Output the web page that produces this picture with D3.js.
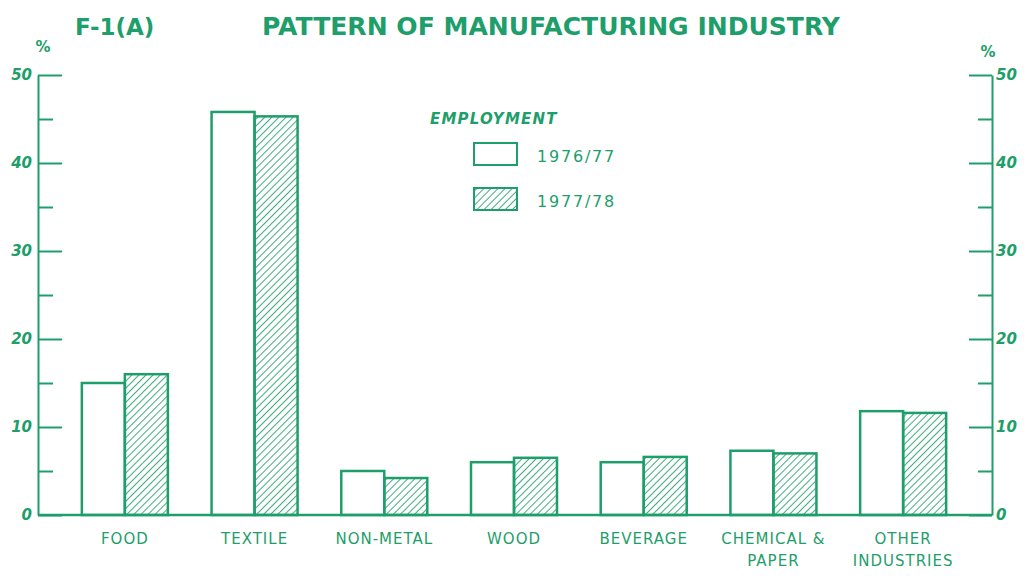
<!DOCTYPE html>
<html>
<head>
<meta charset="utf-8">
<script src="https://cdn.jsdelivr.net/npm/d3@7"></script>
<style>
  body { margin: 0; background: #fff; }
  svg { display: block; }
  text { font-family: "DejaVu Sans", sans-serif; fill: #1e9e6a; }
</style>
</head>
<body>
<div id="chart"></div>
<script>
// data (percent of manufacturing employment)
const categories = ["FOOD", "TEXTILE", "NON-METAL", "WOOD", "BEVERAGE", "CHEMICAL &\nPAPER", "OTHER\nINDUSTRIES"];
const seriesNames = ["1976/77", "1977/78"];
const emp7677 = [15.0, 45.8, 5.0, 6.0, 6.0, 7.3, 11.8];
const emp7778 = [16.0, 45.3, 4.2, 6.5, 6.6, 7.0, 11.6];
const majorTicks = [0, 10, 20, 30, 40, 50];
const minorTicks = [5, 15, 25, 35, 45];

const green = "#1e9e6a";
const width = 1030, height = 578;

const svg = d3.select("#chart").append("svg")
  .attr("width", width)
  .attr("height", height);

// hatch pattern for the second series
let defs = svg.append("defs");
defs.append("pattern")
  .attr("id", "hatch")
  .attr("patternUnits", "userSpaceOnUse")
  .attr("width", 5).attr("height", 5)
  .attr("patternTransform", "rotate(45)")
  .append("line")
  .attr("x1", 0).attr("y1", 0).attr("x2", 0).attr("y2", 5)
  .attr("stroke", green).attr("stroke-width", 1.7);

const axisLeftX = 38, axisRightX = 992;
const y = d3.scaleLinear().domain([0, 50]).range([515, 75]);
const x = d3.scaleBand().domain(categories).range([60, 968]).paddingInner(0.337).paddingOuter(0.1685);
const x1 = d3.scaleBand().domain(seriesNames).range([0, x.bandwidth()]);

// title
svg.append("text")
  .attr("x", 75).attr("y", 35)
  .attr("font-size", 23).attr("font-weight", "bold")
  .text("F-1(A)");
svg.append("text")
  .attr("x", 262).attr("y", 35)
  .attr("font-size", 24).attr("font-weight", "bold")
  .attr("textLength", 578).attr("lengthAdjust", "spacingAndGlyphs")
  .text("PATTERN OF MANUFACTURING INDUSTRY");

// % labels
svg.append("text").attr("x", 43).attr("y", 52).attr("text-anchor", "middle")
  .attr("font-size", 15).attr("font-weight", "bold").text("%");
svg.append("text").attr("x", 988).attr("y", 57).attr("text-anchor", "middle")
  .attr("font-size", 15).attr("font-weight", "bold").text("%");

// axes
function styleAxis(g){
  g.selectAll("path, line").attr("stroke", green).attr("stroke-width", 2);
  g.selectAll("text")
    .attr("fill", green)
    .attr("font-family", "DejaVu Sans, sans-serif")
    .attr("font-size", 15)
    .attr("font-style", "italic")
    .attr("font-weight", "bold");
}

let leftAxis = svg.append("g")
  .attr("transform", "translate(" + axisLeftX + ",0)")
  .call(d3.axisLeft(y).tickValues(majorTicks).tickSizeInner(-24).tickSizeOuter(0).tickPadding(6));
leftAxis.call(styleAxis);
svg.append("g")
  .attr("transform", "translate(" + axisLeftX + ",0)")
  .call(d3.axisLeft(y).tickValues(minorTicks).tickFormat("").tickSizeInner(-15).tickSizeOuter(0))
  .call(g => g.select(".domain").remove())
  .call(styleAxis);

let rightAxis = svg.append("g")
  .attr("transform", "translate(" + axisRightX + ",0)")
  .call(d3.axisRight(y).tickValues(majorTicks).tickSizeInner(-23).tickSizeOuter(0).tickPadding(4));
rightAxis.call(styleAxis);
svg.append("g")
  .attr("transform", "translate(" + axisRightX + ",0)")
  .call(d3.axisRight(y).tickValues(minorTicks).tickFormat("").tickSizeInner(-14).tickSizeOuter(0))
  .call(g => g.select(".domain").remove())
  .call(styleAxis);

// bars
let groups = svg.selectAll("g.cat")
  .data(categories)
  .enter()
  .append("g")
  .attr("class", "cat")
  .attr("transform", d => "translate(" + x(d) + ",0)");

groups.selectAll("rect")
  .data((d, i) => [
    {series: seriesNames[0], value: emp7677[i]},
    {series: seriesNames[1], value: emp7778[i]}
  ])
  .enter()
  .append("rect")
  .attr("x", d => x1(d.series))
  .attr("y", d => y(d.value))
  .attr("width", x1.bandwidth())
  .attr("height", d => y(0) - y(d.value))
  .attr("fill", d => d.series == seriesNames[0] ? "#fff" : "url(#hatch)")
  .attr("stroke", green)
  .attr("stroke-width", 2.5);

// baseline
svg.append("line")
  .attr("x1", axisLeftX).attr("x2", axisRightX)
  .attr("y1", y(0)).attr("y2", y(0))
  .attr("stroke", green).attr("stroke-width", 2.5);

// category labels
categories.forEach(function(c){
  let lines = c.split("\n");
  let t = svg.append("text")
    .attr("text-anchor", "middle")
    .attr("font-size", 15)
    .attr("letter-spacing", 1);
  lines.forEach(function(l, k){
    t.append("tspan")
      .attr("x", x(c) + x.bandwidth() / 2)
      .attr("y", 544 + k * 22)
      .text(l);
  });
});

// legend
svg.append("text")
  .attr("x", 430).attr("y", 124)
  .attr("font-size", 15).attr("font-style", "italic").attr("font-weight", "bold")
  .attr("letter-spacing", 1.2)
  .text("EMPLOYMENT");

let legend = svg.append("g");
seriesNames.forEach(function(s, i){
  legend.append("rect")
    .attr("x", 474).attr("y", 143 + i * 45)
    .attr("width", 43).attr("height", 22)
    .attr("fill", i == 0 ? "#fff" : "url(#hatch)")
    .attr("stroke", green).attr("stroke-width", 2);
  legend.append("text")
    .attr("x", 537).attr("y", 162 + i * 45)
    .attr("font-size", 16).attr("letter-spacing", 1.8)
    .text(s);
});
</script>
</body>
</html>
